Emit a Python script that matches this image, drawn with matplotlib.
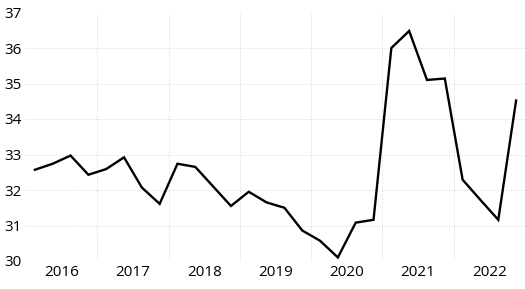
import matplotlib.pyplot as plt
import numpy as np

years = ["2016", "2017", "2018", "2019", "2020", "2021", "2022"]
values = [32.57, 32.74, 32.97, 32.43,
          32.59, 32.92, 32.07, 31.61,
          32.74, 32.65, 32.10, 31.55,
          31.95, 31.65, 31.50, 30.86,
          30.57, 30.10, 31.08, 31.16,
          36.00, 36.48, 35.10, 35.14,
          32.29, 31.72, 31.16, 34.52]

plt.rcParams['font.family'] = ['Open Sans', 'DejaVu Sans']

fig = plt.figure(figsize=(5.25, 2.89), dpi=100)
ax = fig.add_axes([26 / 525, 1 - 261 / 289, 499 / 525, 248.5 / 289])

x = np.arange(len(values))
ax.plot(x, values, color='black', linewidth=1.7, solid_joinstyle='miter')

ax.set_xlim(-0.5, len(values) - 0.5)
ax.set_ylim(30, 37)
ax.set_yticks(range(30, 38))
ax.set_xticks([i * 4 + 1.5 for i in range(len(years))])
ax.set_xticklabels(years)
ax.tick_params(length=0, labelsize=11, pad=3)
ax.tick_params(axis='y', pad=3)

for spine in ax.spines.values():
    spine.set_visible(False)

# faint grid: horizontal at each unit, vertical between years
for yv in range(31, 37):
    ax.axhline(yv, color='#d6d6d6', linewidth=0.7, linestyle=':', zorder=0)
for i in range(1, len(years)):
    ax.axvline(i * 4 - 0.5, color='#d6d6d6', linewidth=0.7, linestyle=':', zorder=0)

fig.savefig('out.png', dpi=100)
